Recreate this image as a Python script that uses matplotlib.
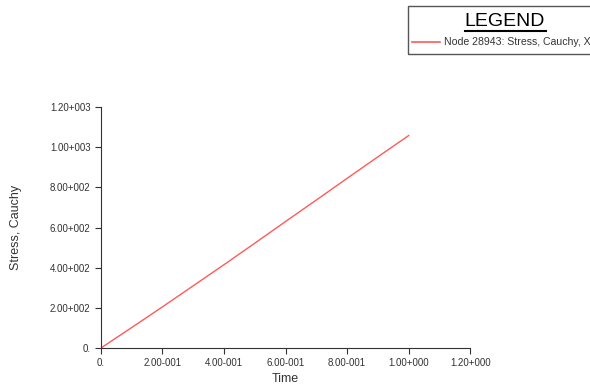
import matplotlib
matplotlib.use("Agg")
import matplotlib.pyplot as plt
from matplotlib.patches import Rectangle
from matplotlib.lines import Line2D

plt.rcParams['font.family'] = ['Liberation Sans Narrow', 'Liberation Sans', 'DejaVu Sans']

# data
time = [0.0, 0.1, 0.2, 0.3, 0.4, 0.5, 0.6, 0.7, 0.8, 0.9, 1.0]
stress = [0, 102, 205, 310, 415, 522, 630, 737, 845, 952, 1058]

xticks = [0.0, 0.2, 0.4, 0.6, 0.8, 1.0, 1.2]
xlabels = ['0.', '2.00-001', '4.00-001', '6.00-001', '8.00-001', '1.00+000', '1.20+000']
yticks = [0, 200, 400, 600, 800, 1000, 1200]
ylabels = ['0.', '2.00+002', '4.00+002', '6.00+002', '8.00+002', '1.00+003', '1.20+003']
legend_label = 'Node 28943: Stress, Cauchy, X'

fig = plt.figure(figsize=(5.9, 3.85), dpi=100)
ax = fig.add_axes([0.171, 0.096, 0.626, 0.626])

ax.plot(time, stress, color='#ff5a5a', lw=1.0)
ax.set_xlim(0, 1.2)
ax.set_ylim(0, 1200)
ax.set_xticks(xticks)
ax.set_xticklabels(xlabels)
ax.set_yticks(yticks)
ax.set_yticklabels(ylabels)
ax.tick_params(labelsize=7, colors='#333333', length=4, width=0.8)
ax.spines['top'].set_visible(False)
ax.spines['right'].set_visible(False)
for s in ['left', 'bottom']:
    ax.spines[s].set_color('#333333')
ax.set_xlabel('Time', fontsize=9, color='#333333', labelpad=3)
ax.set_ylabel('Stress, Cauchy', fontsize=9, color='#333333', labelpad=20)

# legend box at top right (clipped by figure edge)
fig.patches.append(Rectangle((408 / 590, 1 - 54 / 385), 190 / 590, 48 / 385,
                             transform=fig.transFigure, fill=False,
                             edgecolor='#555555', lw=1.0))
fig.text(505 / 590, 1 - 21 / 385, 'LEGEND', fontsize=14, ha='center', va='center',
         fontweight='medium')
fig.lines.append(Line2D([465 / 590, 546 / 590], [1 - 31 / 385, 1 - 31 / 385],
                        transform=fig.transFigure, color='black', lw=1.5))
fig.lines.append(Line2D([412 / 590, 440 / 590], [1 - 42 / 385, 1 - 42 / 385],
                        transform=fig.transFigure, color='#ff5a5a', lw=1.2))
fig.text(444 / 590, 1 - 42 / 385, legend_label, fontsize=7.6, ha='left', va='center',
         color='#333333')

fig.savefig('out.png', dpi=100)
